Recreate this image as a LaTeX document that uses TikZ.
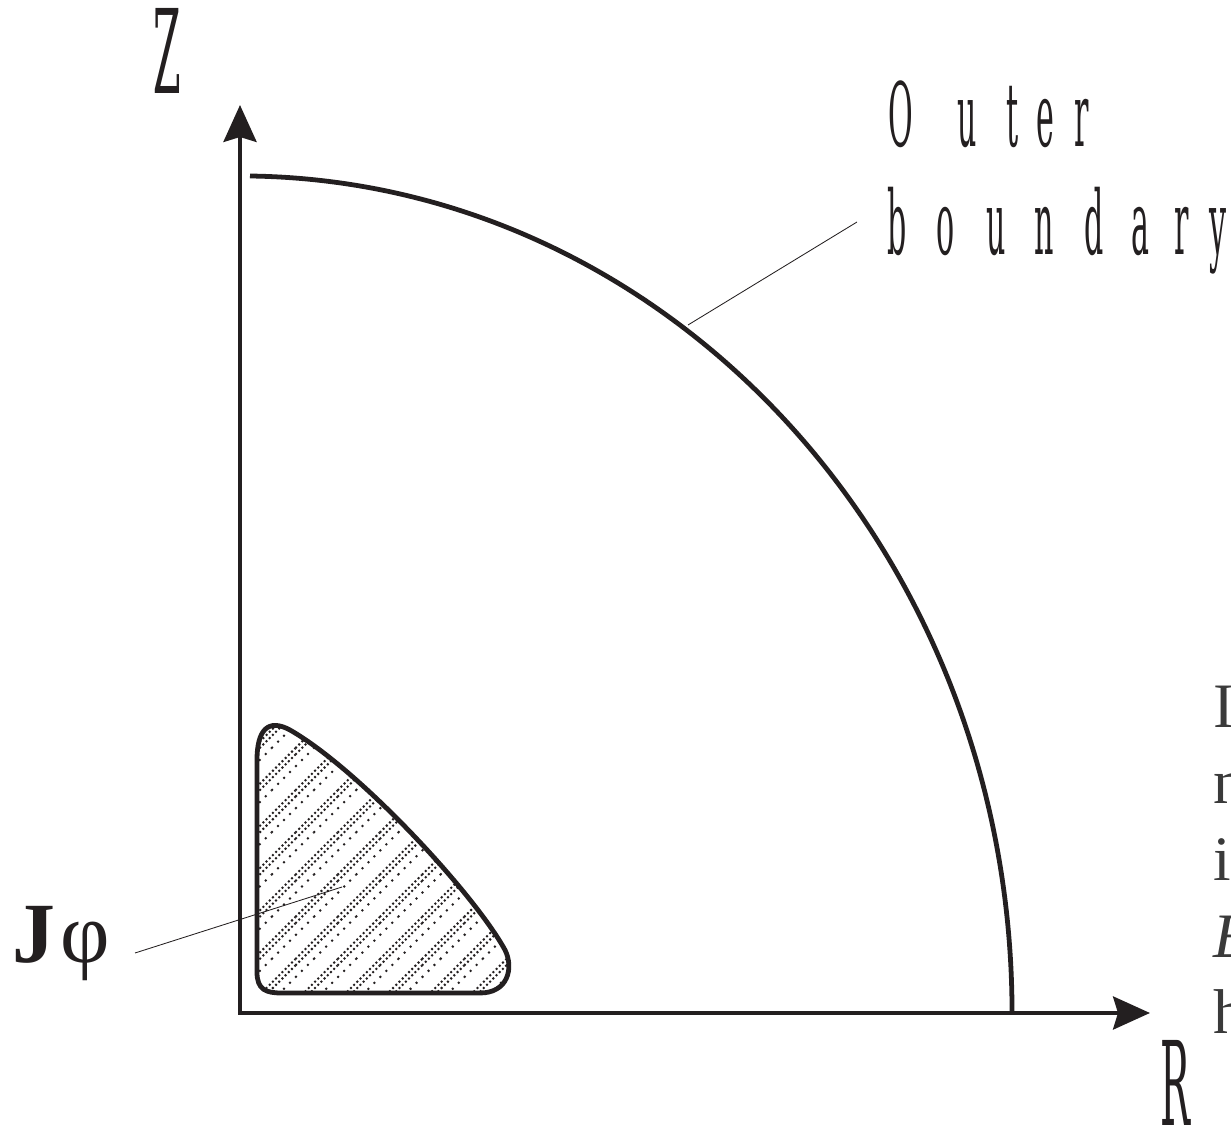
\documentclass[tikz,border=0pt]{standalone}
\usepackage{fontspec}
\setmainfont{Liberation Serif}
\newfontfamily\axisfont{DejaVu Serif}
\usetikzlibrary{arrows.meta,patterns}
\definecolor{ink}{HTML}{231F20}
\definecolor{edgegray}{HTML}{3A3A3A}
\newcommand\squeeze[1]{\scalebox{0.34}[1]{#1}}
% dotted diagonal bands inside the current region
\pgfdeclarepatternformonly{dotbands}{\pgfpoint{-1pt}{-1pt}}{\pgfpoint{31pt}{31pt}}{\pgfpoint{30pt}{30pt}}{%
  \pgfsetlinewidth{1.4pt}\pgfsetdash{{1.4pt}{1.8pt}}{0pt}%
  \pgfpathmoveto{\pgfpoint{0pt}{0pt}}\pgfpathlineto{\pgfpoint{30pt}{30pt}}%
  \pgfpathmoveto{\pgfpoint{4.5pt}{0pt}}\pgfpathlineto{\pgfpoint{30pt}{25.5pt}}%
  \pgfpathmoveto{\pgfpoint{0pt}{25.5pt}}\pgfpathlineto{\pgfpoint{4.5pt}{30pt}}%
  \pgfusepath{stroke}%
  \pgfsetdash{{1.4pt}{4.6pt}}{0pt}%
  \pgfpathmoveto{\pgfpoint{13pt}{0pt}}\pgfpathlineto{\pgfpoint{30pt}{17pt}}%
  \pgfpathmoveto{\pgfpoint{0pt}{17pt}}\pgfpathlineto{\pgfpoint{13pt}{30pt}}%
  \pgfusepath{stroke}}
\begin{document}
\begin{tikzpicture}[x=0.025cm,y=-0.025cm,
  thickline/.style={draw=ink,line width=3.4pt},
  leader/.style={draw=ink,line width=0.6pt},
  axistip/.tip={Stealth[length=0.92cm,width=0.82cm,inset=0.12cm]},
  axislabel/.style={anchor=base,inner sep=0pt,text=ink,font=\axisfont\fontsize{83}{83}\selectfont},
  wordletter/.style={anchor=base,inner sep=0pt,text=ink,font=\axisfont\fontsize{63}{63}\selectfont},
  edgetext/.style={anchor=base west,inner sep=0pt,text=edgegray,font=\fontsize{45}{45}\selectfont}]
\useasboundingbox (0,0) rectangle (1231,1128);
% axes
\draw[thickline,axistip-axistip] (240,105) -- (240,1013) -- (1150,1013);
\node[axislabel] (zlabel) at (167,94) {\squeeze{Z}};
\node[axislabel] (rlabel) at (1175,1125) {\squeeze{R}};
% outer boundary
\draw[thickline] (250,176) arc[start angle=-89.26,end angle=0,x radius=772,y radius=837];
\foreach \ch/\cx [count=\i] in {O/901,u/967,t/1013,e/1045,r/1082}
  \node[wordletter] (outer-\i) at (\cx,147) {\squeeze{\ch}};
\foreach \ch/\cx [count=\i] in {b/897,o/946,u/996,n/1044,d/1094,a/1140,r/1182,y/1218}
  \node[wordletter] (bound-\i) at (\cx,255) {\squeeze{\ch}};
\coordinate (arc-hit) at (688,325);
\coordinate (label-hit) at (857,222);
\draw[leader] (arc-hit) -- (label-hit);
% current region
\path[pattern=dotbands,pattern color=ink] (257,760) -- (257,972)
  .. controls (257,990) and (266,993) .. (282,993) -- (480,993)
  .. controls (508,993) and (514,968) .. (505,950)
  .. controls (475,895) and (360,770) .. (290,730)
  .. controls (268,718) and (257,730) .. (257,760) -- cycle;
\draw[thickline] (257,760) -- (257,972)
  .. controls (257,990) and (266,993) .. (282,993) -- (480,993)
  .. controls (508,993) and (514,968) .. (505,950)
  .. controls (475,895) and (360,770) .. (290,730)
  .. controls (268,718) and (257,730) .. (257,760) -- cycle;
\node[anchor=base west,inner sep=0pt,text=ink,font=\fontsize{61}{61}\selectfont] (jphi) at (12,962) {\bfseries J\hspace{4pt}\mdseries φ};
\coordinate (jphi-end) at (135,953);
\coordinate (region-hit) at (342,887);
\draw[leader] (jphi-end) -- (region-hit);
% text running off the right edge
\begin{scope}
\clip (1150,600) rectangle (1231,1050);
\node[edgetext] (edge-1) at (1213,727) {I};
\node[edgetext] (edge-2) at (1213,803) {n};
\node[edgetext] (edge-3) at (1213,880) {i};
\node[edgetext] (edge-4) at (1213,957) {\textit{E}};
\node[edgetext] (edge-5) at (1213,1033) {h};
\end{scope}
\end{tikzpicture}
\end{document}
